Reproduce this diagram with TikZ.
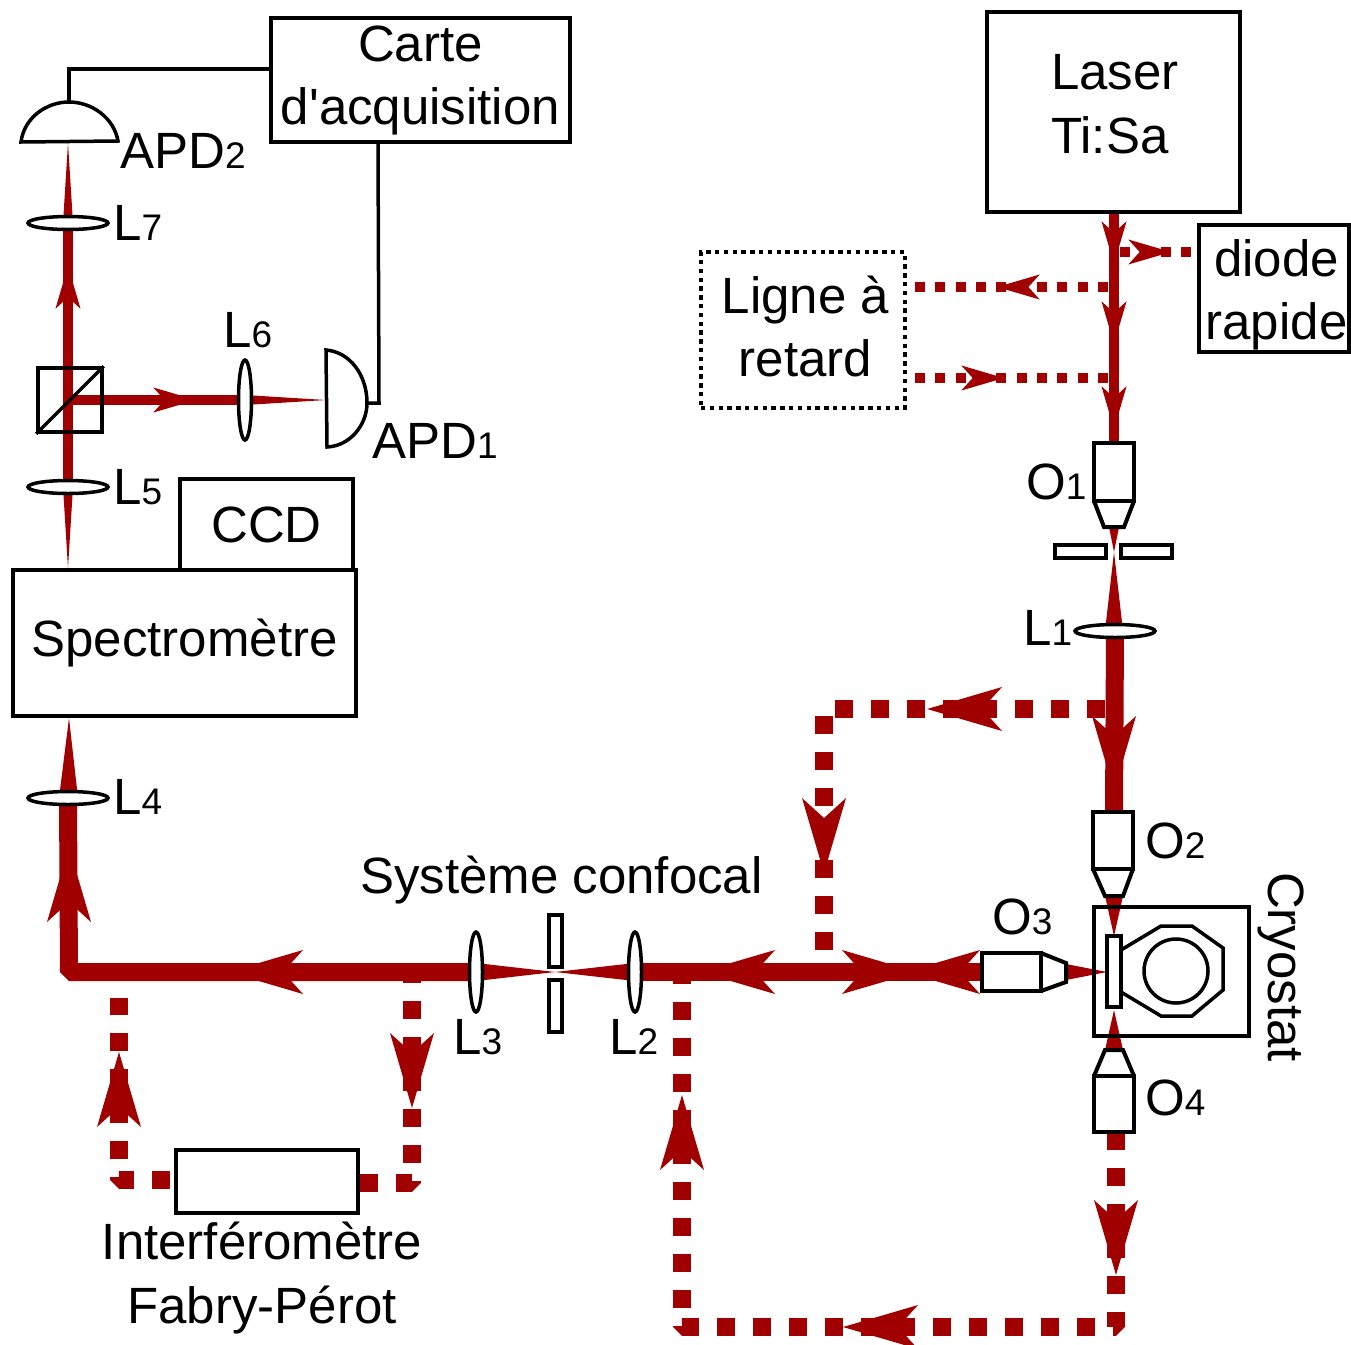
\documentclass[tikz,border=0pt]{standalone}
\usepackage{fontspec}
\setmainfont{Liberation Sans}
\usetikzlibrary{shapes.geometric,backgrounds}

\definecolor{beamred}{RGB}{160,0,0}
\newcommand{\labfont}{\fontsize{51}{63.5}\selectfont}
\newcommand{\idx}[1]{{\fontsize{37}{37}\selectfont #1}}
\newcommand{\twolines}[3]{\raisebox{#1}[0pt][0pt]{\begin{tabular}{@{}c@{}}#2\\#3\end{tabular}}}

\tikzset{
  box/.style={draw, line width=4.5pt, inner sep=0pt, align=center, font=\labfont},
  lab/.style={anchor=base west, inner sep=0pt, font=\labfont},
  lensh/.style={draw, fill=white, ellipse, line width=3.5pt, inner sep=0pt, minimum width=80pt, minimum height=13pt},
  lensv/.style={draw, fill=white, ellipse, line width=3.5pt, inner sep=0pt, minimum width=13pt, minimum height=80pt},
  optic/.style={draw, fill=white, line width=4pt},
  wire/.style={draw, line width=3.5pt},
  beamthin/.style={draw=beamred, line width=10pt},
  beamfat/.style={draw=beamred, line width=18pt, line join=bevel},
  dotthin/.style={draw=beamred, line width=10pt, dash pattern=on 10pt off 10.33pt},
  dotfat/.style={draw=beamred, line width=18pt, line join=bevel, dash pattern=on 18pt off 18pt},
  pics/beamtip/.style={code={\fill[beamred] (0,0) -- (-75,22) -- (-55,0) -- (-75,-22) -- cycle;}}
}

\begin{document}
\begin{tikzpicture}[x=1pt, y=-1pt]
\useasboundingbox (0,0) rectangle (1351,1344);
% instrument boxes
\node[box, minimum width=299pt, minimum height=124pt] (carte) at (420.5,80) {\twolines{-6.5pt}{Carte}{d\textquotesingle acquisition}};
\node[box, minimum width=253pt, minimum height=200pt] (laser) at (1113.5,112) {\raisebox{-3pt}[0pt][0pt]{\begin{tabular}{@{}l@{}}Laser\\Ti:Sa\end{tabular}}\hspace{-3pt}};
\node[box, line width=3.5pt, minimum width=150pt, minimum height=127pt] (diode) at (1274,288.5) {\twolines{-13pt}{\hspace{5pt}diode}{\hspace{5pt}rapide}};
\node[box, line width=3.5pt, dash pattern=on 4.4pt off 4.4pt, minimum width=204pt, minimum height=156pt] (ligne) at (803,330) {\twolines{-8.5pt}{\hspace{5pt}Ligne à}{\hspace{5pt}retard}};
\node[box, minimum width=173pt, minimum height=91pt] (ccd) at (266.5,524.5) {CCD};
\node[box, minimum width=343pt, minimum height=146pt] (spectro) at (184.5,643) {Spectromètre};
\node[box, line width=4pt, minimum width=182pt, minimum height=63pt] (fabry) at (267,1181.5) {};
% lenses
\node[lensh] (Lseven) at (68,223) {};
\node[lensh] (Lfive) at (68,487) {};
\node[lensh] (Lfour) at (68,798) {};
\node[lensh] (Lone) at (1115,631) {};
\node[lensv] (Lsix) at (245,400) {};
\node[lensv] (Lthree) at (476,972) {};
\node[lensv] (Ltwo) at (635,972) {};
% beam splitter
\node[draw, line width=3.5pt, minimum size=64pt, inner sep=0pt] (cube) at (70,400) {};
\draw[wire] (cube.south west) -- (cube.north east);
% detectors
\coordinate (apdtwo) at (69,102);
\coordinate (apdone) at (367,403);
\draw[wire] (21,142) .. controls (24,118) and (46,102) .. (apdtwo) .. controls (92,102) and (114,118) .. (118,141) -- cycle;
\draw[wire] (326,350) .. controls (350,352) and (367,375) .. (apdone) .. controls (367,425) and (350,446) .. (327,447) -- cycle;
% wires
\coordinate (wireb) at (carte.west |- 0,69);
\coordinate (wirea) at (378,142);
\draw[wire] (apdtwo) -- (69,69) -- (wireb);
\draw[wire] (apdone) -- (379,403) -- (wirea);
% objectives
\draw[optic] (1094,501) -- (1104,527) -- (1124,527) -- (1134,501);
\draw[optic] (1094,443) rectangle (1134,501);
\draw[optic] (1093,869) -- (1105,896) -- (1123,896) -- (1133,869);
\draw[optic] (1093,812) rectangle (1133,869);
\draw[optic] (1094,1076) -- (1105,1050) -- (1123,1050) -- (1134,1076);
\draw[optic] (1094,1076) rectangle (1134,1132);
\draw[optic] (1041,953) -- (1066,963) -- (1066,982) -- (1041,991);
\draw[optic] (982,953) rectangle (1041,991);
% pinholes
\draw[optic, line width=3.5pt] (1055,545) rectangle (1106,558);
\draw[optic, line width=3.5pt] (1121,545) rectangle (1172,558);
\draw[optic, line width=3.5pt] (549,915) rectangle (562,967);
\draw[optic, line width=3.5pt] (549,980) rectangle (562,1032);
% cryostat
\draw[wire] (1094,907) rectangle (1249,1036);
\draw[wire] (1121,950) -- (1161,926) -- (1192,926) -- (1223,948) -- (1223,990) -- (1192,1016) -- (1161,1016) -- (1121,992);
\draw[wire] (1176,971) circle (32);
\draw[optic, line width=3.5pt] (1107,936) rectangle (1121,1007);
% beams, under everything drawn so far
\begin{scope}[on background layer]
\draw[beamthin] (laser.south -| 1114,0) -- (1114,443);
\draw[beamthin] (Lfive.center) -- (Lseven.center);
\draw[beamthin] (cube.center) -- (Lsix.center);
\draw[beamfat] (Lone.center) -- (1114,812);
\draw[beamfat] (Lthree.center) -- (69,972) -- (Lfour.center);
\draw[beamfat] (Ltwo.center) -- (982,972);
% focused parts of the beams
\fill[beamred] (1109,527) -- (1119,527) -- (1114,552) -- cycle;
\fill[beamred] (1114,552) -- (1123,631) -- (1105,631) -- cycle;
\fill[beamred] (1105,896) -- (1123,896) -- (1114,936) -- cycle;
\fill[beamred] (1105,1050) -- (1123,1050) -- (1114,1010) -- cycle;
\fill[beamred] (1066,964) -- (1066,980) -- (1107,972) -- cycle;
\fill[beamred] (476,963) -- (476,981) -- (555,972) -- cycle;
\fill[beamred] (635,963) -- (635,981) -- (555,972) -- cycle;
\fill[beamred] (59,798) -- (78,798) -- (69,718) -- cycle;
\fill[beamred] (63,487) -- (73,487) -- (68,568) -- cycle;
\fill[beamred] (63,223) -- (73,223) -- (68,143) -- cycle;
\fill[beamred] (245,395) -- (245,405) -- (326,400) -- cycle;
% dotted paths
\draw[dotthin] (1108,287) -- (ligne.east |- 0,287);
\draw[dotthin] (1108,378) -- (ligne.east |- 0,378);
\draw[dotthin] (1120,252) -- (diode.west |- 0,252);
\draw[dotfat] (1105,709) -- (824,709) -- (824,950);
\draw[dotfat] (682,966) -- (682,1327) -- (1116,1327) -- (1116,1132);
\draw[dotfat] (412,965) -- (412,1183) -- (fabry.east |- 0,1183);
\draw[dotfat] (170,1180) -- (119,1180) -- (119,998);
% arrow tips along the beams
\foreach \px/\py/\ang/\sz in {1114/264/-90/0.57, 1114/344/-90/0.57, 1114/429/-90/0.57,
    997/287/180/0.57, 1004/378/0/0.57, 1171/252/0/0.57,
    68/266/90/0.57, 196/400/0/0.57,
    927/709/180/1, 1114/791/-90/1, 824/873/-90/1,
    228/972/180/1, 69/847/90/1, 700/972/180/1, 917/972/0/1, 905/972/180/1,
    412/1108/-90/1, 119/1052/90/1, 682/1095/90/1, 1116/1275/-90/1, 843/1327/180/1} {
  \pic[rotate=\ang, scale=\sz] at (\px,\py) {beamtip};
}
\end{scope}
% labels
\node[lab] (labApdb) at (120,168) {APD\idx{2}};
\node[lab] (labApda) at (372,458) {APD\idx{1}};
\node[lab] (labLseven) at (113,240) {L\idx{7}};
\node[lab] (labLsix) at (223,347) {L\idx{6}};
\node[lab] (labLfive) at (113,504) {L\idx{5}};
\node[lab] (labLfour) at (113,814) {L\idx{4}};
\node[lab] (labLthree) at (453,1054) {L\idx{3}};
\node[lab] (labLtwo) at (609,1054) {L\idx{2}};
\node[lab] (labLone) at (1023,645) {L\idx{1}};
\node[lab] (labOone) at (1026,499) {O\idx{1}};
\node[lab] (labOtwo) at (1145,858) {O\idx{2}};
\node[lab] (labOthree) at (992,934) {O\idx{3}};
\node[lab] (labOfour) at (1145,1115) {O\idx{4}};
\node[lab] (labConfocal) at (360,893) {Système confocal};
\node[inner sep=0pt, align=center, font=\labfont] (labFabry) at (262,1278) {Interféromètre\\Fabry-Pérot};
\node[inner sep=0pt, font=\labfont, rotate=-90] (labCryo) at (1281,967) {Cryostat};
\end{tikzpicture}
\end{document}
